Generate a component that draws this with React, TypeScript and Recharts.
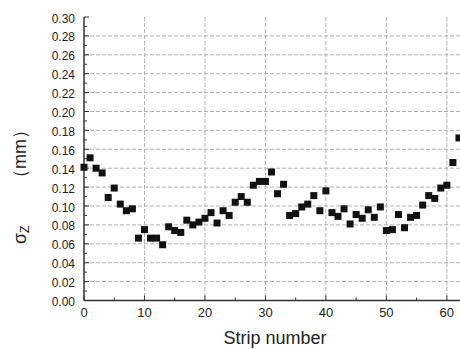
import { ScatterChart, Scatter, XAxis, YAxis, CartesianGrid } from "recharts";

// strip index and measured sigma_z (mm)
const STRIP = [
  0, 1, 2, 3, 4, 5, 6, 7, 8, 9, 10, 11, 12, 13, 14, 15, 16, 17, 18, 19, 20,
  21, 22, 23, 24, 25, 26, 27, 28, 29, 30, 31, 32, 33, 34, 35, 36, 37, 38, 39,
  40, 41, 42, 43, 44, 45, 46, 47, 48, 49, 50, 51, 52, 53, 54, 55, 56, 57, 58,
  59, 60, 61, 62,
];

const SIGMA_Z = [
  0.141, 0.151, 0.140, 0.135, 0.109, 0.119, 0.102, 0.095, 0.097, 0.066, 0.075,
  0.066, 0.066, 0.059, 0.078, 0.074, 0.072, 0.085, 0.080, 0.083, 0.087, 0.093,
  0.082, 0.095, 0.090, 0.104, 0.110, 0.104, 0.122, 0.126, 0.126, 0.136, 0.113,
  0.123, 0.090, 0.092, 0.099, 0.102, 0.111, 0.095, 0.116, 0.093, 0.089, 0.097,
  0.081, 0.091, 0.087, 0.096, 0.088, 0.099, 0.074, 0.075, 0.091, 0.077, 0.088,
  0.090, 0.101, 0.111, 0.108, 0.119, 0.122, 0.146, 0.172,
];

const X_TICKS = [0, 5, 10, 15, 20, 25, 30, 35, 40, 45, 50, 55, 60];
const Y_TICKS = [
  0, 0.01, 0.02, 0.03, 0.04, 0.05, 0.06, 0.07, 0.08, 0.09, 0.1, 0.11, 0.12,
  0.13, 0.14, 0.15, 0.16, 0.17, 0.18, 0.19, 0.2, 0.21, 0.22, 0.23, 0.24, 0.25,
  0.26, 0.27, 0.28, 0.29, 0.3,
];

const data = STRIP.map((s, i) => ({ strip: s, sigma: SIGMA_Z[i] }));

const FONT = '"Liberation Sans", Arial, sans-serif';
const AXIS = "#333";
const TEXT = "#222";
const GRID = "#b0b0b0";

const isMajorX = (v: number) => v % 10 === 0;
const isMajorY = (v: number) => Math.round(v * 100) % 2 === 0;

const gridX = X_TICKS.filter((v) => isMajorX(v) && v > 0);
const gridY = Y_TICKS.filter((v) => isMajorY(v) && v > 0 && v < 0.3);

function BottomTick({ x, y, payload }: any) {
  const v = payload.value;
  const major = isMajorX(v);
  return (
    <g>
      <line x1={x} x2={x} y1={y} y2={y - (major ? 5 : 3)} stroke={AXIS} />
      {major && (
        <text x={x} y={y + 16.5} textAnchor="middle" fontSize={13} fill={TEXT} fontFamily={FONT}>
          {v}
        </text>
      )}
    </g>
  );
}

function TopTick({ x, y, payload }: any) {
  const major = isMajorX(payload.value);
  return <line x1={x} x2={x} y1={y} y2={y + (major ? 5 : 3)} stroke={AXIS} />;
}

function LeftTick({ x, y, payload }: any) {
  const v = payload.value;
  const major = isMajorY(v);
  return (
    <g>
      <line x1={x} x2={x + (major ? 5 : 3)} y1={y} y2={y} stroke={AXIS} />
      {major && (
        <text x={x - 9} y={y + 5.5} textAnchor="end" fontSize={12} fill={TEXT} fontFamily={FONT}>
          {v.toFixed(2)}
        </text>
      )}
    </g>
  );
}

function Square(props: any) {
  const { cx, cy } = props;
  return <rect x={cx - 3.5} y={cy - 3.5} width={7} height={7} fill="#111" />;
}

export default function App() {
  return (
    <div
      style={{
        position: "absolute",
        left: 0,
        top: 0,
        width: 460,
        height: 349,
        overflow: "hidden",
        background: "#fff",
      }}
    >
      <ScatterChart width={465} height={349} margin={{ top: 17, right: 0, bottom: 0, left: 0 }}>
        <CartesianGrid
          stroke={GRID}
          strokeDasharray="4 2"
          verticalValues={gridX}
          horizontalValues={gridY}
        />
        <XAxis
          type="number"
          dataKey="strip"
          domain={[0, 63]}
          ticks={X_TICKS}
          interval={0}
          height={48.5}
          tickSize={0}
          tickMargin={0}
          tickLine={false}
          tick={BottomTick}
          axisLine={{ stroke: AXIS, strokeWidth: 1.5 }}
          label={() => (
            <text x={275} y={344} textAnchor="middle" fontSize={18} fill={TEXT} fontFamily={FONT}>
              Strip number
            </text>
          )}
        />
        <XAxis
          xAxisId="top"
          orientation="top"
          type="number"
          dataKey="strip"
          domain={[0, 63]}
          ticks={X_TICKS}
          interval={0}
          height={0}
          tickSize={0}
          tickMargin={0}
          tickLine={false}
          tick={TopTick}
          axisLine={{ stroke: "#555", strokeWidth: 1.5 }}
        />
        <YAxis
          type="number"
          dataKey="sigma"
          domain={[0, 0.3]}
          ticks={Y_TICKS}
          interval={0}
          width={84}
          tickSize={0}
          tickMargin={0}
          tickLine={false}
          tick={LeftTick}
          axisLine={{ stroke: AXIS, strokeWidth: 1.5 }}
          label={() => (
            <g fontFamily={FONT} fill={TEXT}>
              <text transform="translate(26,244) rotate(-90)" fontSize={18}>
                <tspan>σ</tspan>
                <tspan fontSize={12} dy={3}>Z</tspan>
              </text>
              <text transform="translate(26,154) rotate(-90)" fontSize={18} textAnchor="middle">
                （mm）
              </text>
            </g>
          )}
        />
        <Scatter data={data} shape={Square} isAnimationActive={false} />
      </ScatterChart>
    </div>
  );
}
